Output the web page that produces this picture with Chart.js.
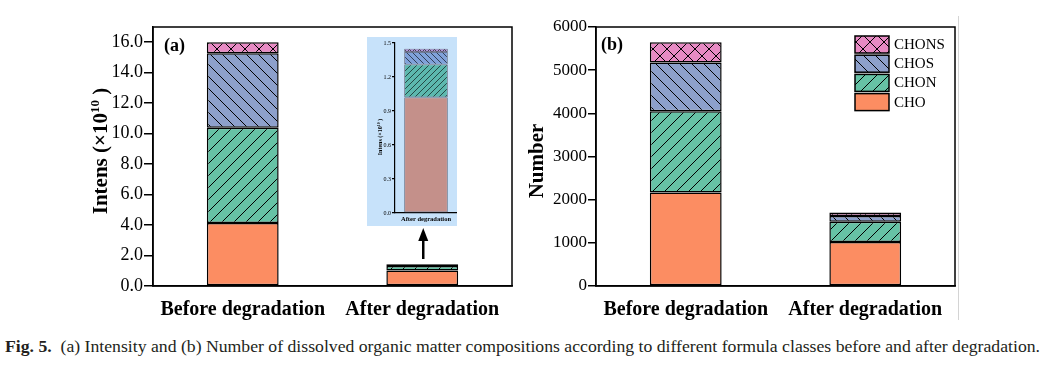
<!DOCTYPE html>
<html>
<head>
<meta charset="utf-8">
<script src="https://cdn.jsdelivr.net/npm/chart.js@4.4.1/dist/chart.umd.min.js"></script>
<style>
  body { margin: 0; background: #fff; width: 1046px; height: 375px; position: relative; overflow: hidden; font-family: 'Liberation Serif', serif; }
  #ca { position: absolute; left: 0; top: 0; }
  #cb { position: absolute; left: 520px; top: 0; }
  #ci { position: absolute; left: 367px; top: 37px; background: #c7e2fa; }
  #sep { position: absolute; left: 958px; top: 16px; width: 1px; height: 304px; background: #d4d4d4; }
  #cap { position: absolute; left: 5px; top: 338px; font-family: 'Liberation Serif', serif; font-size: 16px; color: #231f20; white-space: nowrap; transform-origin: 0 0; }
</style>
</head>
<body>
<canvas id="ca" width="520" height="330"></canvas>
<canvas id="cb" width="526" height="330"></canvas>
<canvas id="ci" width="90" height="189"></canvas>
<div id="sep"></div>
<div id="cap"><b>Fig. 5.</b>&nbsp; (a) Intensity and (b) Number of dissolved organic matter compositions according to different formula classes before and after degradation.</div>
<script>
// categories and formula classes
const categories = ['Before degradation', 'After degradation'];
const classes = ['CHO', 'CHON', 'CHOS', 'CHONS'];

// (a) intensity, x10^10
const intensCHO = [4.14, 1.02];
const intensCHON = [6.25, 0.29];
const intensCHOS = [4.89, 0.11];
const intensCHONS = [0.72, 0.03];
const intensTicks = [0, 2, 4, 6, 8, 10, 12, 14, 16];

// (b) number of formulas
const numCHO = [2165, 1020];
const numCHON = [1885, 470];
const numCHOS = [1130, 130];
const numCHONS = [465, 80];
const numTicks = [0, 1000, 2000, 3000, 4000, 5000, 6000];

// inset = after degradation only
const insetLabels = ['After degradation'];
const insetTicks = [0, 0.3, 0.6, 0.9, 1.2, 1.5];

const serif = "'Liberation Serif', 'Times New Roman', serif";
const colors = ['#fc8d62', '#66c2a5', '#8da0cb', '#e78ac3'];
const insetColors = ['#c4908a', '#5cb8ae', '#7fa1d9', '#b497dc'];
const kinds = ['solid', 'fwd', 'back', 'cross'];

function hatch(color, kind, size, lw) {
  if (kind === 'solid') return color;
  const c = document.createElement('canvas');
  c.width = c.height = size;
  const g = c.getContext('2d');
  g.fillStyle = color;
  g.fillRect(0, 0, size, size);
  g.strokeStyle = '#000';
  g.lineWidth = lw;
  g.beginPath();
  if (kind === 'fwd' || kind === 'cross') {
    g.moveTo(-1, size + 1); g.lineTo(size + 1, -1);
    g.moveTo(-2, 2); g.lineTo(2, -2);
    g.moveTo(size - 2, size + 2); g.lineTo(size + 2, size - 2);
  }
  if (kind === 'back' || kind === 'cross') {
    g.moveTo(-1, -1); g.lineTo(size + 1, size + 1);
    g.moveTo(-2, size - 2); g.lineTo(2, size + 2);
    g.moveTo(size - 2, -2); g.lineTo(size + 2, 2);
  }
  g.stroke();
  return g.createPattern(c, 'repeat');
}

function makeSets(series, cols, sizes, lw, border, bw) {
  return series.map((d, i) => ({
    label: classes[i],
    data: d,
    backgroundColor: hatch(cols[i], kinds[i], sizes[i], lw),
    borderColor: border,
    borderWidth: bw,
    borderSkipped: false
  }));
}

function drawYTitle(ctx, x, y, size, weight) {
  const big = weight + ' ' + size + 'px ' + serif;
  const small = weight + ' ' + Math.round(size * 0.62) + 'px ' + serif;
  const parts = [['Intens (×10', big, 0], ['10', small, -size * 0.4], [' )', big, 0]];
  ctx.save();
  ctx.translate(x, y);
  ctx.rotate(-Math.PI / 2);
  ctx.fillStyle = '#000';
  ctx.textBaseline = 'alphabetic';
  let w = 0;
  parts.forEach(p => { ctx.font = p[1]; w += ctx.measureText(p[0]).width; });
  let cx = -w / 2;
  parts.forEach(p => {
    ctx.font = p[1];
    ctx.fillText(p[0], cx, p[2]);
    cx += ctx.measureText(p[0]).width;
  });
  ctx.restore();
}

function frame(ctx, a) {
  ctx.save();
  ctx.strokeStyle = '#000';
  ctx.lineWidth = 1.5;
  ctx.strokeRect(a.left, a.top, a.right - a.left, a.bottom - a.top);
  ctx.restore();
}

const common = {
  responsive: false,
  animation: false,
  plugins: { legend: { display: false }, tooltip: { enabled: false } }
};

function yScale(max, tickValues, fontSize, width, fmt, tickLen, lw) {
  return {
    stacked: true, min: 0, max: max,
    ticks: { color: '#000', padding: 1, font: { family: serif, size: fontSize }, callback: fmt },
    grid: { drawOnChartArea: false, drawTicks: true, tickLength: tickLen, color: '#000', lineWidth: lw },
    border: { color: '#000', width: lw },
    afterBuildTicks: s => { s.ticks = tickValues.map(v => ({ value: v })); },
    afterFit: s => { s.width = width; }
  };
}

function xScale(fontSize, pad, height, lw) {
  return {
    stacked: true,
    grid: { display: false, drawTicks: false, tickLength: 0 },
    border: { color: '#000', width: lw },
    ticks: { color: '#000', padding: pad, maxRotation: 0, minRotation: 0, autoSkip: false, font: { family: serif, size: fontSize, weight: 'bold' } },
    afterFit: s => { s.height = height; }
  };
}

// panel (a)
new Chart(document.getElementById('ca'), {
  type: 'bar',
  data: {
    labels: categories,
    datasets: makeSets([intensCHO, intensCHON, intensCHOS, intensCHONS], colors, [0, 12, 12, 14], 1, '#000', 1.5)
  },
  options: Object.assign({}, common, {
    layout: { padding: { left: 0, right: 8, top: 27, bottom: 0 } },
    datasets: { bar: { barPercentage: 0.4, categoryPercentage: 1 } },
    scales: { x: xScale(20, 12, 44, 1.5), y: yScale(17, intensTicks, 18, 153, v => v.toFixed(1), 9, 1.5) }
  }),
  plugins: [{
    id: 'decorA',
    afterDraw(chart) {
      const ctx = chart.ctx, a = chart.chartArea;
      frame(ctx, a);
      drawYTitle(ctx, a.left - 46, 151, 21, 'bold');
      ctx.save();
      ctx.fillStyle = '#000';
      ctx.font = 'bold 18px ' + serif;
      ctx.textBaseline = 'middle';
      ctx.fillText('(a)', a.left + 11, a.top + 19);
      // arrow pointing to the inset
      const x = chart.scales.x.getPixelForValue(1) + 1;
      ctx.strokeStyle = '#000';
      ctx.lineWidth = 2.5;
      ctx.beginPath();
      ctx.moveTo(x, 259);
      ctx.lineTo(x, 240);
      ctx.stroke();
      ctx.beginPath();
      ctx.moveTo(x - 5, 241);
      ctx.lineTo(x + 5, 241);
      ctx.lineTo(x, 228);
      ctx.closePath();
      ctx.fill();
      ctx.restore();
    }
  }]
});

// panel (b)
new Chart(document.getElementById('cb'), {
  type: 'bar',
  data: {
    labels: categories,
    datasets: makeSets([numCHO, numCHON, numCHOS, numCHONS], colors, [0, 12, 12, 14], 1, '#000', 1.5)
  },
  options: Object.assign({}, common, {
    layout: { padding: { left: 0, right: 91, top: 27, bottom: 0 } },
    datasets: { bar: { barPercentage: 0.4, categoryPercentage: 1 } },
    scales: { x: xScale(20, 12, 44, 1.5), y: yScale(6000, numTicks, 17, 76, v => String(v), 8, 1.5) }
  }),
  plugins: [{
    id: 'decorB',
    afterDraw(chart) {
      const ctx = chart.ctx, a = chart.chartArea;
      frame(ctx, a);
      ctx.save();
      ctx.fillStyle = '#000';
      ctx.font = 'bold 21px ' + serif;
      ctx.translate(a.left - 53, 161);
      ctx.rotate(-Math.PI / 2);
      ctx.textAlign = 'center';
      ctx.fillText('Number', 0, 0);
      ctx.restore();
      ctx.save();
      ctx.fillStyle = '#000';
      ctx.font = 'bold 18px ' + serif;
      ctx.textBaseline = 'middle';
      ctx.fillText('(b)', a.left + 5, a.top + 18);
      // legend, top entry = last dataset
      const sets = chart.data.datasets.slice().reverse();
      const bx = a.right - 100;
      sets.forEach((ds, i) => {
        const by = a.top + 9 + i * 19.2;
        ctx.fillStyle = ds.backgroundColor;
        ctx.fillRect(bx, by, 34, 17);
        ctx.strokeStyle = '#000';
        ctx.lineWidth = 1.5;
        ctx.strokeRect(bx, by, 34, 17);
        ctx.fillStyle = '#000';
        ctx.font = '15px ' + serif;
        ctx.textBaseline = 'middle';
        ctx.fillText(ds.label, bx + 39, by + 9);
      });
      ctx.restore();
    }
  }]
});

// inset of panel (a)
new Chart(document.getElementById('ci'), {
  type: 'bar',
  data: {
    labels: insetLabels,
    datasets: makeSets([[intensCHO[1]], [intensCHON[1]], [intensCHOS[1]], [intensCHONS[1]]], insetColors, [0, 6, 6, 5], 0.6, '#4a4a5a', 0.8)
  },
  options: Object.assign({}, common, {
    layout: { padding: { left: 0, right: 0, top: 6, bottom: 0 } },
    datasets: { bar: { barPercentage: 0.7, categoryPercentage: 1 } },
    scales: {
      x: xScale(6.5, 2, 13, 1.2),
      y: yScale(1.5, insetTicks, 6, 28, v => v.toFixed(1), 3, 1.2)
    }
  }),
  plugins: [{
    id: 'decorI',
    afterDraw(chart) {
      drawYTitle(chart.ctx, 15, 100, 6, 'bold');
    }
  }]
});

// squeeze the caption to the page width like the condensed original
const cap = document.getElementById('cap');
cap.style.transform = 'scaleX(' + (1035 / cap.offsetWidth) + ')';
</script>
</body>
</html>
